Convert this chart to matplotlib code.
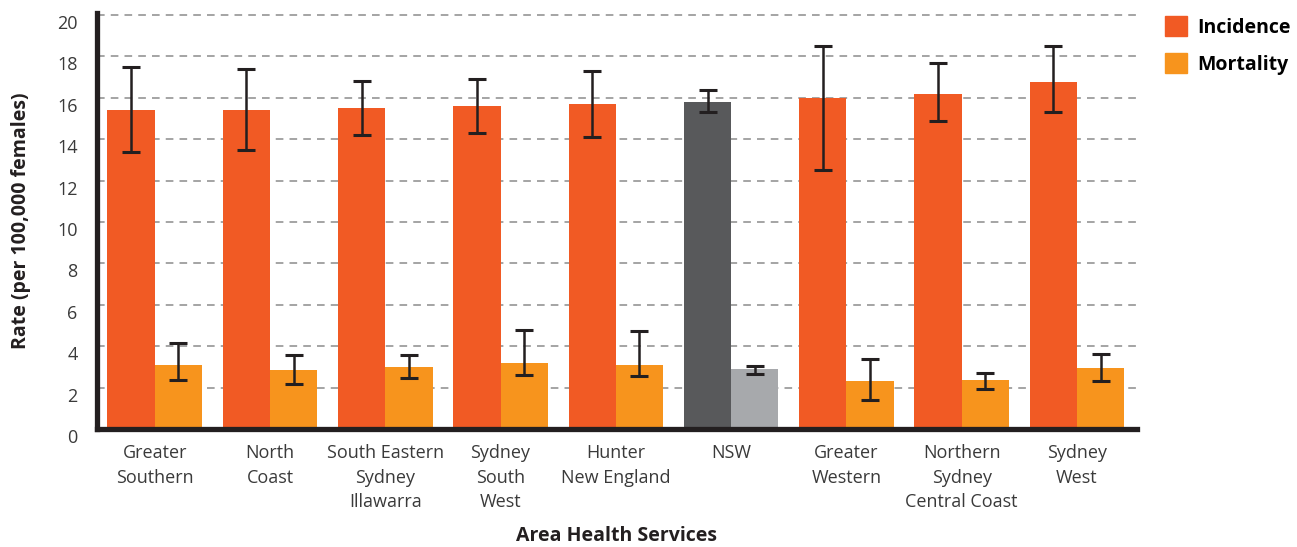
import matplotlib
matplotlib.use("Agg")
import matplotlib.pyplot as plt
import matplotlib.transforms as mtransforms
from matplotlib.patches import Patch
import numpy as np

plt.rcParams['font.family'] = ['Open Sans', 'DejaVu Sans']

areas = ['Greater\nSouthern', 'North\nCoast', 'South Eastern\nSydney\nIllawarra',
         'Sydney\nSouth\nWest', 'Hunter\nNew England', 'NSW', 'Greater\nWestern',
         'Northern\nSydney\nCentral Coast', 'Sydney\nWest']

incidence = [15.4, 15.4, 15.5, 15.6, 15.7, 15.8, 16.0, 16.2, 16.75]
inc_low = [13.4, 13.5, 14.2, 14.3, 14.1, 15.3, 12.5, 14.9, 15.3]
inc_high = [17.5, 17.4, 16.8, 16.9, 17.3, 16.4, 18.5, 17.7, 18.5]

mortality = [3.11, 2.87, 3.01, 3.21, 3.11, 2.92, 2.34, 2.39, 2.97]
mort_low = [2.37, 2.18, 2.47, 2.61, 2.56, 2.66, 1.40, 1.94, 2.32]
mort_high = [4.16, 3.58, 3.58, 4.79, 4.74, 3.05, 3.39, 2.71, 3.63]

c_inc = '#F15A24'
c_mort = '#F7941D'
c_nsw_inc = '#58595B'
c_nsw_mort = '#A7A9AC'
dark = '#231F20'
txt = '#3a3a3a'

fig = plt.figure(figsize=(12.97, 5.47), dpi=100)
ax = fig.add_axes([97/1297, 1 - 429/547, (1137-97)/1297, (429-13)/547])

x = np.arange(len(areas))
w = 0.41
inc_cols = [c_nsw_inc if a == 'NSW' else c_inc for a in areas]
mort_cols = [c_nsw_mort if a == 'NSW' else c_mort for a in areas]

inc = np.array(incidence)
mort = np.array(mortality)
ax.bar(x - w/2, inc, w, color=inc_cols, zorder=2)
ax.bar(x + w/2, mort, w, color=mort_cols, zorder=2)

ekw = dict(fmt='none', ecolor=dark, elinewidth=1.8, capsize=6.5, capthick=2.2, zorder=3)
ax.errorbar(x - w/2, inc, yerr=[inc - np.array(inc_low), np.array(inc_high) - inc], **ekw)
ax.errorbar(x + w/2, mort, yerr=[mort - np.array(mort_low), np.array(mort_high) - mort], **ekw)

ax.set_xlim(-0.5, 8.52)
ax.set_ylim(0, 20.1)
ax.set_yticks(np.arange(0, 21, 2))
for yv in np.arange(2, 21, 2):
    ax.axhline(yv, color='#8c8c8c', lw=1.1, ls=(0, (5, 4)), zorder=1)

ax.set_xticks(x)
ax.set_xticklabels(areas, fontsize=13, color=txt, linespacing=1.45, va='top')
ax.tick_params(axis='both', length=0, labelsize=13, labelcolor=txt)
ax.tick_params(axis='x', pad=11)
ax.tick_params(axis='y', pad=14)

# tick labels sit a little below their gridlines in the original
shift = mtransforms.ScaledTranslation(0, -7/100, fig.dpi_scale_trans)
for lab in ax.get_yticklabels():
    lab.set_transform(lab.get_transform() + shift)

for s in ['top', 'right']:
    ax.spines[s].set_visible(False)
for s in ['left', 'bottom']:
    ax.spines[s].set_linewidth(3.8)
    ax.spines[s].set_color(dark)

ax.set_ylabel('Rate (per 100,000 females)', fontsize=14, fontweight='bold', color=dark, labelpad=19)
ax.set_xlabel('Area Health Services', fontsize=14, fontweight='bold', color=dark, labelpad=11)

handles = [Patch(color=c_inc), Patch(color=c_mort)]
fig.legend(handles, ['Incidence', 'Mortality'], loc='upper left',
           bbox_to_anchor=(1147/1297, 1 + 1/547), frameon=False,
           handlelength=1.15, handleheight=1.15, labelspacing=0.8, handletextpad=0.55,
           prop={'weight': 'bold', 'size': 14})

fig.savefig('out.png', dpi=100)
